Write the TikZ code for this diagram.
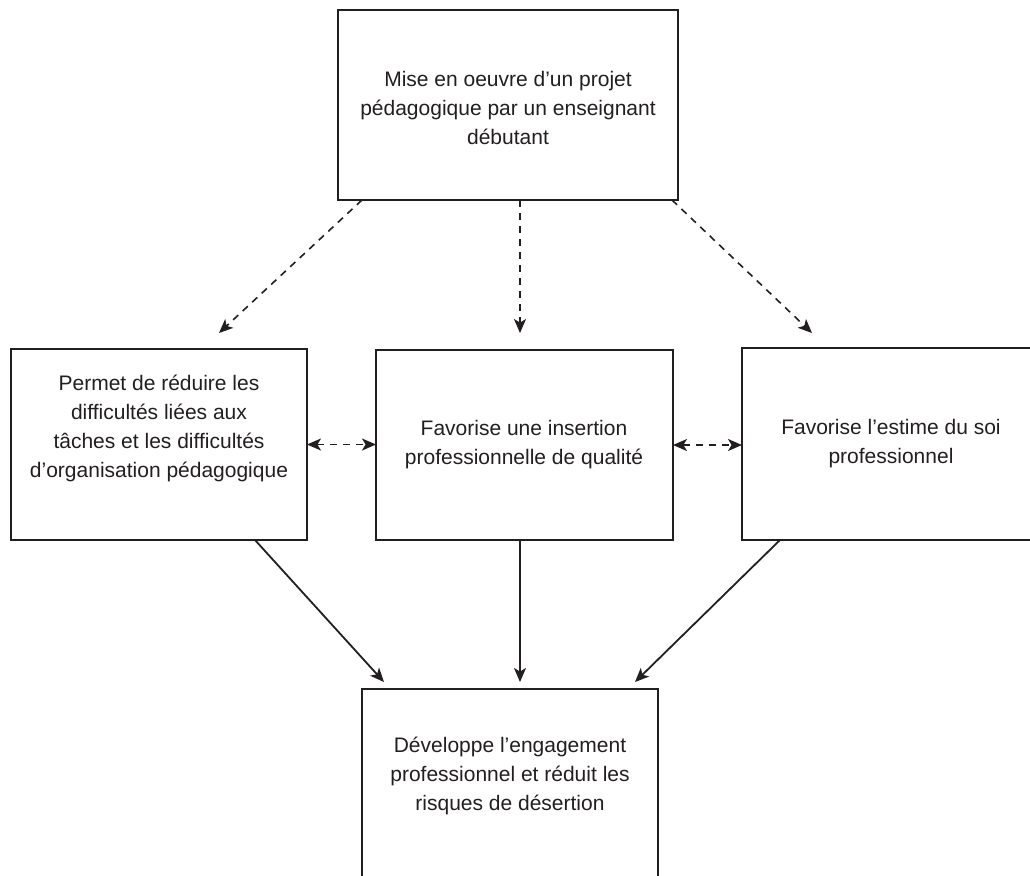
\documentclass[tikz,border=0pt]{standalone}
\usepackage{fontspec}
\setmainfont{Liberation Sans}
\usetikzlibrary{arrows.meta}
\definecolor{ink}{HTML}{231F20}
\begin{document}
\begin{tikzpicture}[x=0.5pt,y=-0.5pt,
  box/.style={draw=ink, line width=1pt, rectangle, inner sep=0pt, outer sep=0pt},
  txt/.style={text=ink, align=center, font=\fontsize{10.5pt}{14.5pt}\selectfont, inner sep=0pt},
  tip/.tip={Stealth[length=7pt,width=6pt,inset=1.8pt]},
  dasharrow/.style={draw=ink, line width=0.8pt, dash pattern=on 3.5pt off 3pt, -tip},
  dashboth/.style={draw=ink, line width=0.8pt, dash pattern=on 3.5pt off 3pt, tip-tip},
  solidarrow/.style={draw=ink, line width=0.9pt, -tip}]
\useasboundingbox (0,0) rectangle (1030,875);
\clip (0,0) rectangle (1030,875);
\fill[white] (0,0) rectangle (1030,875);
% boxes
\node[box, minimum width=170pt, minimum height=95pt] (top) at (508,105) {};
\node[box, minimum width=148pt, minimum height=95.5pt] (left) at (159,444.5) {};
\node[box, minimum width=148.5pt, minimum height=95pt] (mid) at (524.5,445) {};
\node[box, minimum width=149pt, minimum height=96pt] (right) at (891,444) {};
\node[box, minimum width=148pt, minimum height=95pt] (bot) at (510,784) {};
% texts
\node[txt] (ttop) at (508,108) {Mise en oeuvre d’un projet\\pédagogique par un enseignant\\débutant};
\node[txt] (tleft) at (159,428) {Permet de réduire les\\difficultés liées aux\\tâches et les difficultés\\d’organisation pédagogique};
\node[txt] (tmid) at (524,445) {Favorise une insertion\\professionnelle de qualité};
\node[txt] (tright) at (891,444) {Favorise l’estime du soi\\professionnel};
\node[txt] (tbot) at (510,776) {Développe l’engagement\\professionnel et réduit les\\risques de désertion};
% dashed arrows from top
\draw[dasharrow] ([xshift=12pt]top.south west) -- ([xshift=30pt,yshift=8pt]left.north);
\draw[dasharrow] ([xshift=6pt]top.south) -- ([xshift=-2.25pt,yshift=8.5pt]mid.north);
\draw[dasharrow] ([xshift=-3pt]top.south east) -- ([xshift=-39.5pt,yshift=7.5pt]right.north);
% horizontal double dashed
\draw[dashboth] (left.east) -- (mid.west |- left.east);
\draw[dashboth] (mid.east) -- (right.west |- mid.east);
% solid arrows to bottom
\draw[solidarrow] ([xshift=48pt]left.south) -- ([xshift=11pt,yshift=3.5pt]bot.north west);
\draw[solidarrow] ([xshift=-2.25pt]mid.south) -- ([xshift=5pt,yshift=3.5pt]bot.north);
\draw[solidarrow] ([xshift=-55.5pt]right.south) -- ([xshift=-11.5pt,yshift=3.5pt]bot.north east);
\end{tikzpicture}
\end{document}
